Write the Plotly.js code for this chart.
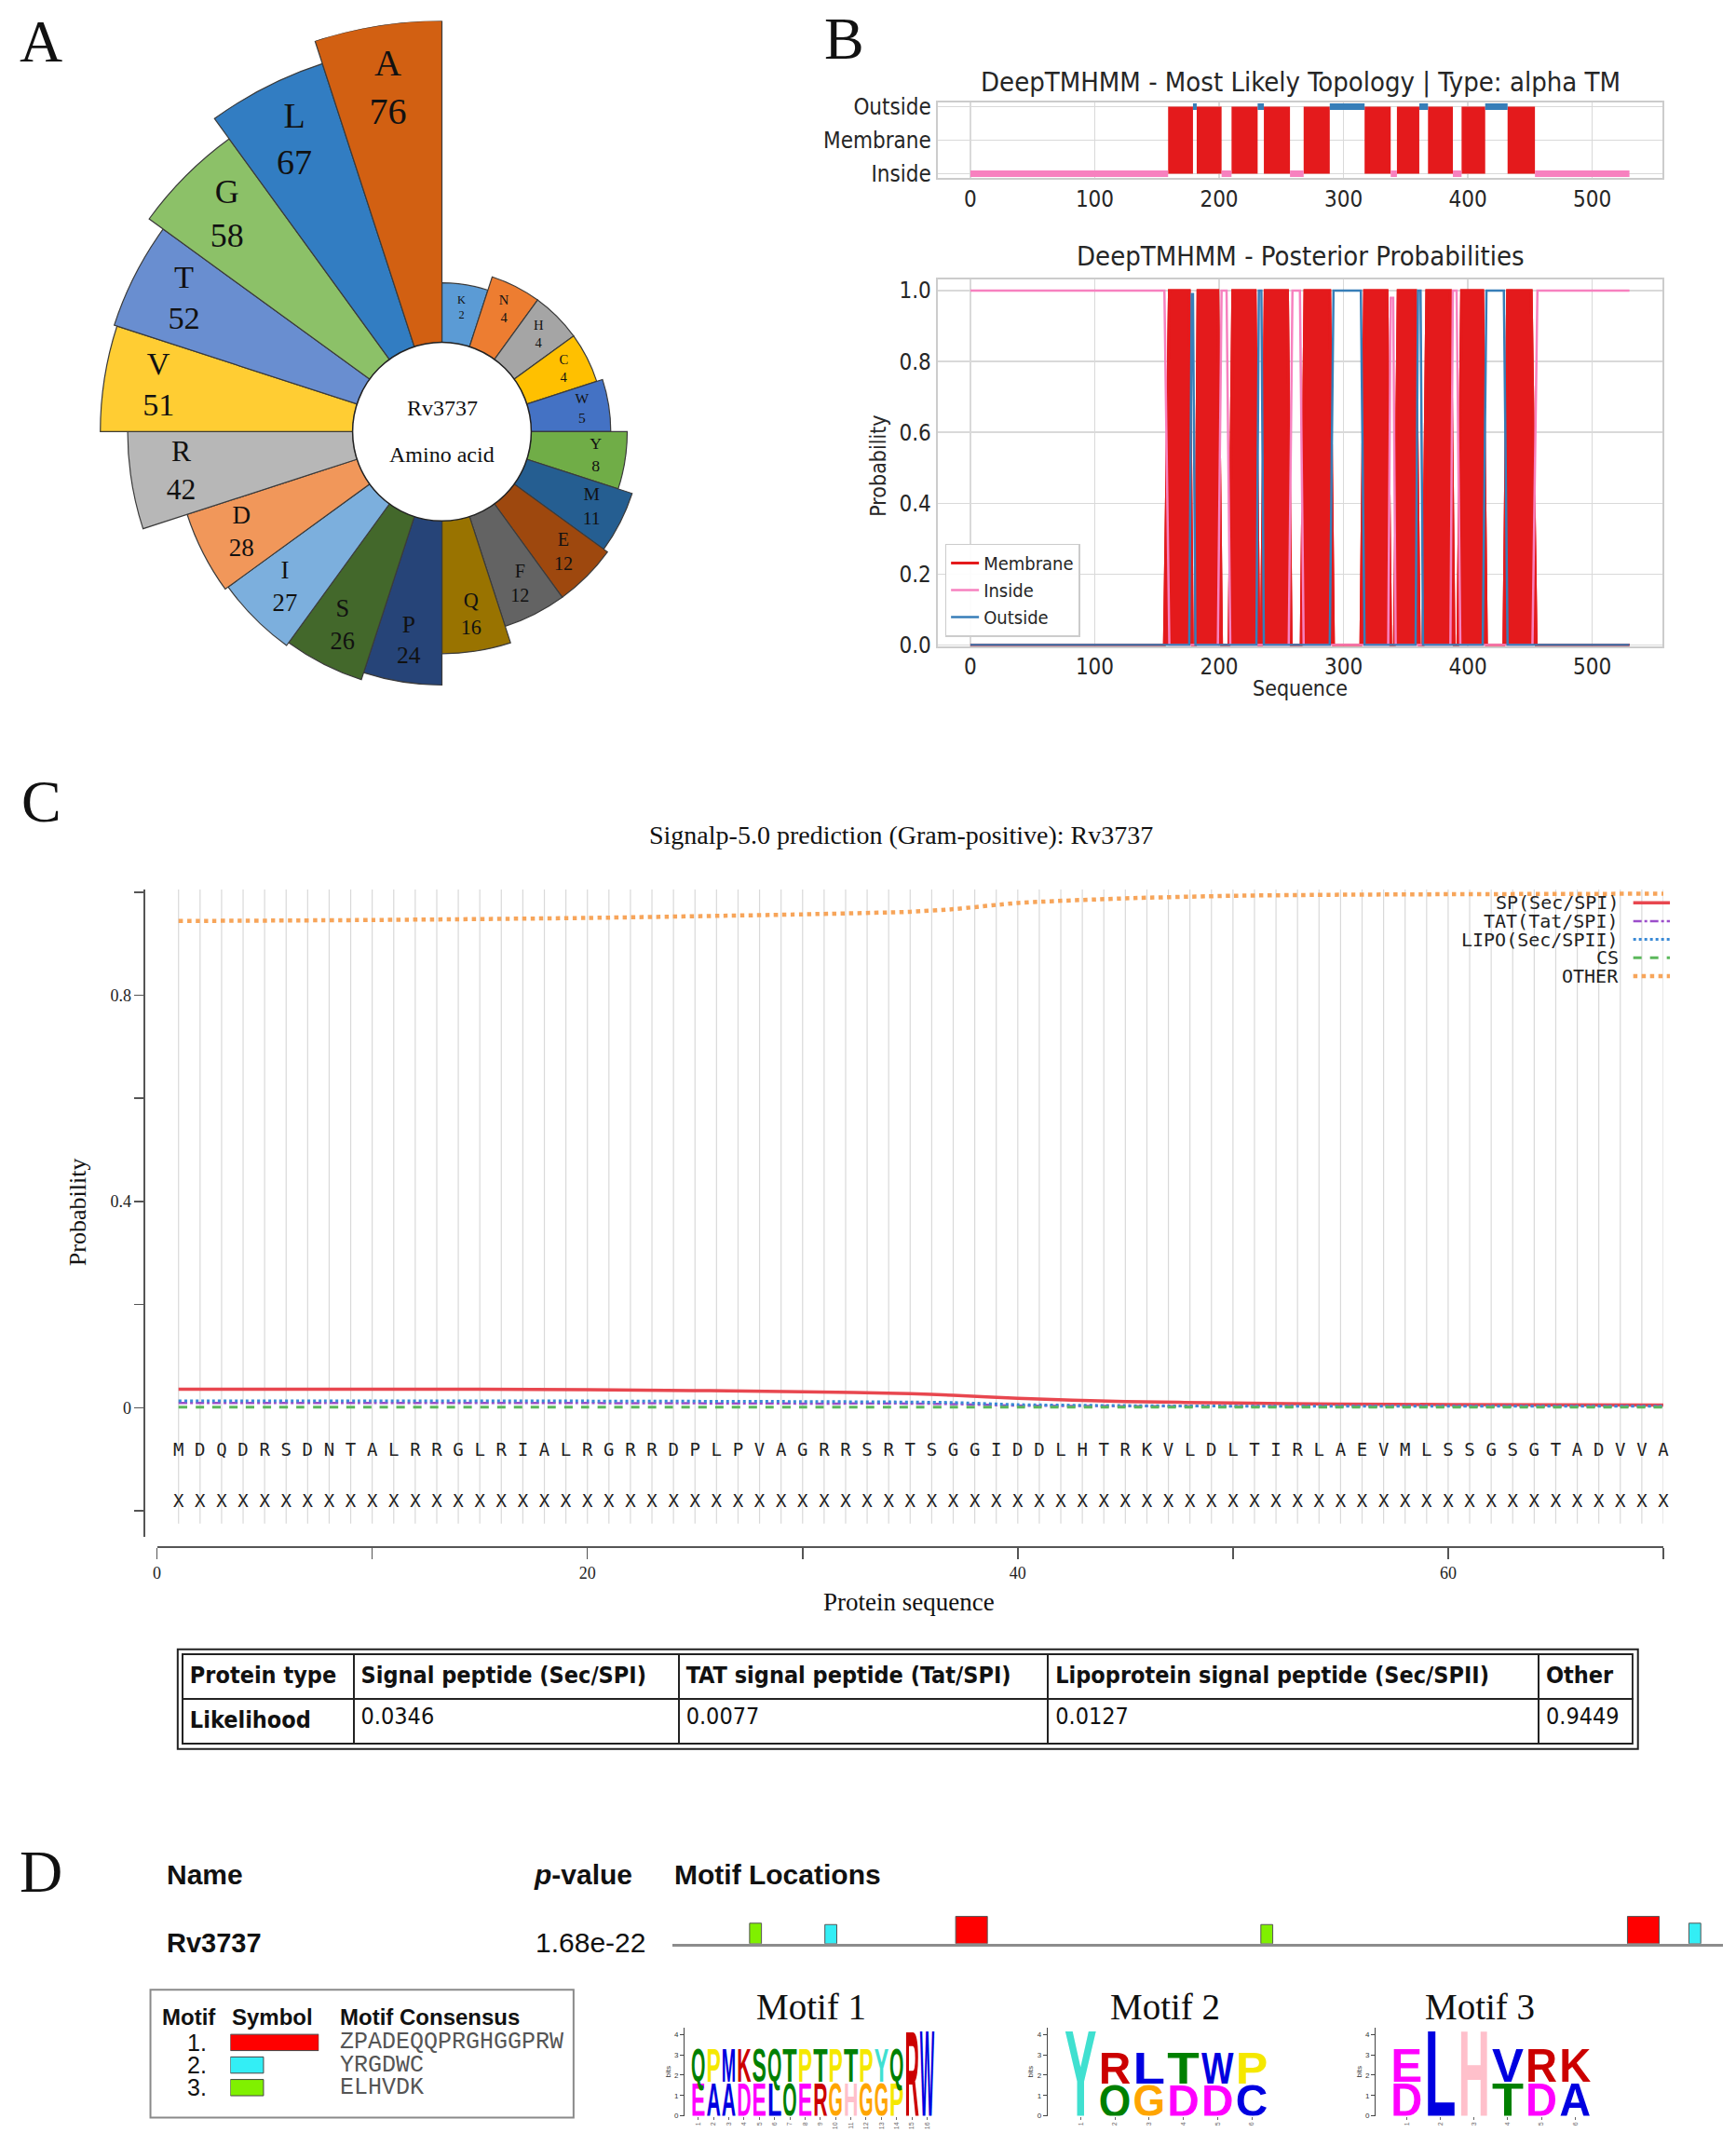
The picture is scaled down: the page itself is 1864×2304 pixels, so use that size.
<!DOCTYPE html>
<html>
<head>
<meta charset="utf-8">
<script src="https://cdn.plot.ly/plotly-3.0.1.min.js"></script>
<style>html,body{margin:0;padding:0;background:#fff}#chart{width:1864px;height:2304px}</style>
</head>
<body>
<div id="chart"></div>
<script>
// ---- A: amino acid composition ----
var aaLetters = ['K','N','H','C','W','Y','M','E','F','Q','P','S','I','D','R','V','T','G','L','A'];
var aaCounts = [2, 4, 4, 4, 5, 8, 11, 12, 12, 16, 24, 26, 27, 28, 42, 51, 52, 58, 67, 76];

// ---- B: DeepTMHMM ----
var seqLength = 530;
var tmStart = [159, 182, 210, 236, 268, 317, 343, 368, 395, 432];
var tmEnd = [179, 202, 231, 257, 289, 338, 361, 388, 414, 454];

var postMemX = [0, 156, 160, 176, 178.5, 181, 183, 199, 202, 208, 211, 229, 232, 234, 237, 255, 258, 266, 269, 289, 292, 314, 317, 335, 338, 341, 344, 358, 361, 364, 367, 386, 389, 392, 395, 412, 415, 429, 432, 451, 455, 530];
var postMemY = [0, 0, 1, 1, 0, 0, 1, 1, 0, 0, 1, 1, 0, 0, 1, 1, 0, 0, 1, 1, 0, 0, 1, 1, 0, 0, 1, 1, 0, 0, 1, 1, 0, 0, 1, 1, 0, 0, 1, 1, 0, 0];
var postInX = [0, 156, 160, 199, 202, 206, 209, 256, 259, 265, 268, 336, 338, 340, 342, 386, 388, 391, 394, 452, 456, 530];
var postInY = [1, 1, 0, 0, 1, 1, 0, 0, 1, 1, 0, 0, 0.98, 0.98, 0, 0, 1, 1, 0, 0, 1, 1];
var postOutX = [0, 176, 178, 179, 181, 230, 232, 234, 236, 289, 292, 314, 317, 358, 360, 362, 364, 412, 415, 429, 432, 530];
var postOutY = [0, 0, 0.99, 0.99, 0, 0, 1, 1, 0, 0, 1, 1, 0, 0, 1, 1, 0, 0, 1, 1, 0, 0];

// ---- C: SignalP 5.0 ----
var signalSeq = 'MDQDRSDNTALRRGLRIALRGRRDPLPVAGRRSRTSGGIDDLHTRKVLDLTIRLAEVMLSSGSGTADVVA';
var probPos = [1, 10, 20, 30, 35, 37, 40, 45, 50, 55, 60, 70];
var probSP = [0.036, 0.036, 0.035, 0.031, 0.027, 0.024, 0.018, 0.012, 0.009, 0.007, 0.006, 0.005];
var probTAT = [0.009, 0.009, 0.009, 0.008, 0.008, 0.007, 0.004, 0.003, 0.003, 0.003, 0.003, 0.003];
var probLIPO = [0.013, 0.013, 0.013, 0.012, 0.011, 0.010, 0.006, 0.004, 0.003, 0.003, 0.003, 0.003];
var probCS = [0.001, 0.001, 0.001, 0.001, 0.001, 0.001, 0.001, 0.001, 0.001, 0.001, 0.001, 0.001];
var probOTHER = [0.944, 0.946, 0.950, 0.957, 0.962, 0.967, 0.979, 0.988, 0.993, 0.995, 0.996, 0.997];
var tableHeader = ['Protein type', 'Signal peptide (Sec/SPI)', 'TAT signal peptide (Tat/SPI)', 'Lipoprotein signal peptide (Sec/SPII)', 'Other'];
var tableLikelihood = ['Likelihood', '0.0346', '0.0077', '0.0127', '0.9449'];

// ---- D: MEME ----
var memeName = 'Rv3737';
var memePValue = '1.68e-22';
var siteMotif = [3, 2, 1, 3, 1, 2];
var siteStart = [39, 77, 143, 297, 482, 513];
var siteHeight = [0.75, 0.7, 1.0, 0.7, 1.0, 0.75];
var motifWidth = [16, 6, 6];
var motifConsensus = ['ZPADEQQPRGHGGPRW', 'YRGDWC', 'ELHVDK'];
var logoMotif1 = [
  [['E', 1.66], ['Q', 1.66]], [['A', 1.66], ['P', 1.66]], [['A', 1.66], ['M', 1.66]], [['D', 1.66], ['K', 1.66]],
  [['E', 1.66], ['S', 1.66]], [['L', 1.66], ['Q', 1.66]], [['Q', 1.66], ['T', 1.66]], [['E', 1.66], ['P', 1.66]],
  [['R', 1.66], ['T', 1.66]], [['G', 1.66], ['P', 1.66]], [['H', 1.66], ['T', 1.66]], [['G', 1.66], ['P', 1.66]],
  [['G', 1.66], ['Y', 1.66]], [['P', 1.66], ['Q', 1.66]], [['R', 4.32]], [['W', 4.32]]
];
var logoMotif2 = [[['Y', 4.32]], [['Q', 1.6], ['R', 1.6]], [['G', 1.6], ['L', 1.6]], [['D', 1.6], ['T', 1.6]], [['D', 1.6], ['W', 1.6]], [['C', 1.6], ['P', 1.6]]];
var logoMotif3 = [[['D', 1.66], ['E', 1.66]], [['L', 4.32]], [['H', 4.32]], [['T', 1.66], ['V', 1.66]], [['D', 1.66], ['R', 1.66]], [['A', 1.66], ['K', 1.66]]];

// ---- styles ----
var W = 1864, H = 2304, K = 1.0096;
function px(x) { return x * K / W; }
function py(y) { return 1 - y * K / H; }

var SERIF = 'Liberation Serif, Times New Roman, serif';
var COND = 'DejaVu Sans Condensed, Liberation Sans Narrow, DejaVu Sans, sans-serif';
var ARIAL = 'Liberation Sans, Arial, sans-serif';
var MONO = 'DejaVu Sans Mono, monospace';
var COURIER = 'Liberation Mono, Courier New, monospace';
var RED = '#e41a1c', PINK = '#f781bf', BLUE = '#377eb8';

var aaColors = ['#5b9bd5', '#ed7d31', '#a5a5a5', '#ffc000', '#4472c4', '#70ad47', '#255e91', '#9e480e', '#636363', '#997300',
  '#264478', '#43682b', '#7cafdd', '#f1975a', '#b7b7b7', '#ffcd33', '#698ed0', '#8cc168', '#327dc2', '#d26012'];
var motifColors = ['#ff0000', '#33eef5', '#80f000'];
var letterColor = {A: '#0000e0', C: '#0000e0', F: '#0000e0', I: '#0000e0', L: '#0000e0', M: '#0000e0', V: '#0000e0', W: '#0000e0',
  K: '#cc0000', R: '#cc0000', D: '#ff00ff', E: '#ff00ff', N: '#008000', Q: '#008000', S: '#008000', T: '#008000',
  G: '#ffa500', H: '#ffc0cb', P: '#f5e800', Y: '#40e0d0'};

var traces = [];
var shapes = [];
var notes = [];

function note(text, x, y, size, family, extra) {
  var a = {text: text, x: px(x), y: py(y), xref: 'paper', yref: 'paper', showarrow: false,
    font: {family: family, size: size, color: '#111'}, xanchor: 'center', yanchor: 'middle'};
  for (var k in extra) a[k] = extra[k];
  return a;
}

// panel letters
notes.push(note('A', 44, 44, 64, SERIF), note('B', 898, 41, 64, SERIF), note('C', 44, 852, 64, SERIF), note('D', 44, 1990, 64, SERIF));

// ---- A ----
// bar length grows with count^0.7, bars start at the white centre circle
var pw = 0.7, hole = 0.2167;
var aaR = aaCounts.map(function (v) { return Math.pow(v, pw); });
var rMax = Math.max.apply(null, aaR), rMin = -2.73;
function labelR(r) {
  var f = hole + (1 - hole) * (r - rMin) / (rMax - rMin);
  return rMin + (0.84 * f - hole) / (1 - hole) * (rMax - rMin);
}
traces.push({
  type: 'barpolar', subplot: 'polar', r: aaR.map(function (r) { return r - rMin; }), base: rMin, theta: aaLetters,
  marker: {color: aaColors, line: {color: '#3b3b3b', width: 1.2}}, showlegend: false, hoverinfo: 'skip'
});
traces.push({
  type: 'scatterpolar', subplot: 'polar', mode: 'text', r: aaR.map(labelR), theta: aaLetters,
  text: aaLetters.map(function (l, i) { return l + '<br>' + aaCounts[i]; }),
  textfont: {family: SERIF, color: '#111', size: aaCounts.map(function (v) { return 7 + 3.8 * Math.sqrt(v); })},
  showlegend: false, hoverinfo: 'skip'
});
shapes.push({type: 'circle', xref: 'paper', yref: 'paper', x0: px(375), x1: px(565), y0: py(554), y1: py(364),
  fillcolor: 'white', line: {color: '#222', width: 1.5}, layer: 'above'});
notes.push(note('Rv3737', 470, 434, 24, SERIF), note('Amino acid', 470, 483, 24, SERIF));

// ---- B: topology ----
var loopIn = {x: [], y: []}, loopOut = {x: [], y: []};
for (var k = 0; k <= tmStart.length; k++) {
  var a0 = k === 0 ? 0 : tmEnd[k - 1];
  var b0 = k === tmStart.length ? seqLength : tmStart[k];
  var side = k % 2 === 0 ? loopIn : loopOut;
  var lev = k % 2 === 0 ? 0 : 2;
  side.x.push(a0, b0, null);
  side.y.push(lev, lev, null);
}
traces.push({
  type: 'bar', xaxis: 'x', yaxis: 'y', base: 0,
  x: tmStart.map(function (s, i) { return (s + tmEnd[i]) / 2; }),
  y: tmStart.map(function () { return 2; }),
  width: tmStart.map(function (s, i) { return tmEnd[i] - s; }),
  marker: {color: RED, line: {width: 0}}, showlegend: false, hoverinfo: 'skip'
});
traces.push({type: 'scatter', mode: 'lines', xaxis: 'x', yaxis: 'y', x: loopIn.x, y: loopIn.y, line: {color: PINK, width: 7}, showlegend: false, hoverinfo: 'skip'});
traces.push({type: 'scatter', mode: 'lines', xaxis: 'x', yaxis: 'y', x: loopOut.x, y: loopOut.y, line: {color: BLUE, width: 7}, showlegend: false, hoverinfo: 'skip'});

// ---- B: posterior ----
traces.push({type: 'scatter', mode: 'lines', xaxis: 'x2', yaxis: 'y2', x: postMemX, y: postMemY, fill: 'tozeroy', fillcolor: RED,
  line: {color: RED, width: 3}, showlegend: false, hoverinfo: 'skip'});
traces.push({type: 'scatter', mode: 'lines', xaxis: 'x2', yaxis: 'y2', x: postMemX, y: postMemY, name: 'Membrane',
  line: {color: RED, width: 3}, legendrank: 1, hoverinfo: 'skip'});
traces.push({type: 'scatter', mode: 'lines', xaxis: 'x2', yaxis: 'y2', x: postInX, y: postInY, name: 'Inside',
  line: {color: PINK, width: 2.5}, legendrank: 2, hoverinfo: 'skip'});
traces.push({type: 'scatter', mode: 'lines', xaxis: 'x2', yaxis: 'y2', x: postOutX, y: postOutY, name: 'Outside',
  line: {color: BLUE, width: 2.5}, legendrank: 3, hoverinfo: 'skip'});

var bText = {family: COND, size: 29, color: '#262626'};
notes.push(note('DeepTMHMM - Most Likely Topology | Type: alpha TM', 1383, 87, 29, COND, {font: bText}));
notes.push(note('DeepTMHMM - Posterior Probabilities', 1383, 272, 29, COND, {font: bText}));
notes.push(note('Probability', 934, 495, 23, COND, {textangle: -90, font: {family: COND, size: 23, color: '#262626'}}));
notes.push(note('Sequence', 1383, 732, 23, COND, {font: {family: COND, size: 23, color: '#262626'}}));

// ---- C ----
var cSeries = [
  {name: 'SP(Sec/SPI)', y: probSP, color: '#e8474f', dash: 'solid', width: 3.5},
  {name: 'TAT(Tat/SPI)', y: probTAT, color: '#9b4dca', dash: 'dashdot', width: 2.5},
  {name: 'LIPO(Sec/SPII)', y: probLIPO, color: '#3a8ad6', dash: 'dot', width: 3},
  {name: 'CS', y: probCS, color: '#5cb85c', dash: 'dash', width: 3},
  {name: 'OTHER', y: probOTHER, color: '#f7a55a', dash: 'dot', width: 4.5}
];
for (var i = 1; i <= signalSeq.length; i++) {
  shapes.push({type: 'line', xref: 'x3', yref: 'y3', x0: i, x1: i, y0: -0.225, y1: 1.005,
    line: {color: '#d9d9d9', width: 1.2}, layer: 'below'});
}
cSeries.forEach(function (s, j) {
  traces.push({type: 'scatter', mode: 'lines', xaxis: 'x3', yaxis: 'y3', x: probPos, y: s.y, name: s.name,
    line: {color: s.color, dash: s.dash, width: s.width, shape: 'spline', smoothing: 0.6}, showlegend: false, hoverinfo: 'skip'});
  var ly = 960 + 19.5 * j;
  notes.push(note(s.name, 1723, ly, 20, MONO, {xanchor: 'right', font: {family: MONO, size: 20, color: '#222'}}));
  shapes.push({type: 'line', xref: 'paper', yref: 'paper', x0: px(1737), x1: px(1776), y0: py(ly), y1: py(ly),
    line: {color: s.color, dash: s.dash, width: s.width}});
});
var seqIdx = signalSeq.split('').map(function (c, i) { return i + 1; });
traces.push({type: 'scatter', mode: 'text', xaxis: 'x3', yaxis: 'y3', x: seqIdx, y: seqIdx.map(function () { return -0.085; }),
  text: signalSeq.split(''), textfont: {family: MONO, size: 19, color: '#222'}, cliponaxis: false, showlegend: false, hoverinfo: 'skip'});
traces.push({type: 'scatter', mode: 'text', xaxis: 'x3', yaxis: 'y3', x: seqIdx, y: seqIdx.map(function () { return -0.185; }),
  text: seqIdx.map(function () { return 'X'; }), textfont: {family: MONO, size: 19, color: '#222'}, cliponaxis: false, showlegend: false, hoverinfo: 'skip'});

notes.push(note('Signalp-5.0 prediction (Gram-positive): Rv3737', 958, 888, 28, SERIF));
notes.push(note('Probability', 83, 1289, 26, SERIF, {textangle: -90}));
notes.push(note('Protein sequence', 967, 1704, 27, SERIF));

traces.push({
  type: 'table', domain: {x: [px(194), px(1737)], y: [py(1856), py(1759)]},
  columnwidth: [182, 346, 393, 522, 100],
  header: {values: tableHeader.map(function (h) { return '<b>' + h + '</b>'; }), align: 'left', height: 48,
    line: {color: '#222', width: 2}, fill: {color: 'white'}, font: {family: COND, size: 25, color: '#111'}},
  cells: {values: tableLikelihood.map(function (v, i) { return [i === 0 ? '<b>' + v + '</b>' : v]; }), align: 'left', height: 48,
    line: {color: '#222', width: 2}, fill: {color: 'white'}, font: {family: COND, size: 25, color: '#111'}}
});
// outer frame of the double-bordered html table
shapes.push({type: 'rect', xref: 'paper', yref: 'paper', x0: px(189), x1: px(1742), y0: py(1860), y1: py(1754),
  line: {color: '#222', width: 2}});

// ---- D ----
notes.push(note('<b>Name</b>', 175, 1993, 30, ARIAL, {xanchor: 'left'}));
notes.push(note('<b><i>p</i>-value</b>', 566, 1993, 30, ARIAL, {xanchor: 'left'}));
notes.push(note('<b>Motif Locations</b>', 715, 1993, 30, ARIAL, {xanchor: 'left'}));
notes.push(note('<b>' + memeName + '</b>', 175, 2066, 29, ARIAL, {xanchor: 'left'}));
notes.push(note(memePValue, 568, 2066, 30, ARIAL, {xanchor: 'left'}));

traces.push({
  type: 'bar', xaxis: 'x4', yaxis: 'y4', base: 0,
  x: siteStart.map(function (s, i) { return s + motifWidth[siteMotif[i] - 1] / 2; }),
  width: siteMotif.map(function (m) { return motifWidth[m - 1]; }),
  y: siteHeight,
  marker: {color: siteMotif.map(function (m) { return motifColors[m - 1]; }), line: {color: '#555', width: 1}},
  showlegend: false, hoverinfo: 'skip'
});

// motif legend box
shapes.push({type: 'rect', xref: 'paper', yref: 'paper', x0: px(160), x1: px(610), y0: py(2252), y1: py(2116),
  line: {color: '#8a8a8a', width: 2}});
notes.push(note('<b>Motif</b>', 170, 2145, 24, ARIAL, {xanchor: 'left'}));
notes.push(note('<b>Symbol</b>', 245, 2145, 24, ARIAL, {xanchor: 'left'}));
notes.push(note('<b>Motif Consensus</b>', 360, 2145, 24, ARIAL, {xanchor: 'left'}));
motifConsensus.forEach(function (c, i) {
  var ry = 2172 + 24 * i;
  notes.push(note((i + 1) + '.', 222, ry, 25, ARIAL, {xanchor: 'right'}));
  notes.push(note(c, 360, ry, 25, COURIER, {xanchor: 'left', font: {family: COURIER, size: 25, color: '#555'}}));
});
traces.push({
  type: 'bar', orientation: 'h', xaxis: 'x5', yaxis: 'y5', x: motifWidth, y: [1, 2, 3], width: 0.72,
  marker: {color: motifColors, line: {color: '#444', width: 1}}, showlegend: false, hoverinfo: 'skip'
});

// logos
function logoTrace(cols, n, size) {
  var xs = [], ys = [], txt = [], col = [], box = [];
  cols.forEach(function (stack, c) {
    var base = 0;
    stack.forEach(function (item) {
      var top = base + item[1];
      xs.push(c + 1); ys.push((base + top) / 2); txt.push(item[0]); col.push(letterColor[item[0]]);
      box.push([c + 0.53, c + 1.47, base, top]);
      base = top;
    });
  });
  return {type: 'scatter', mode: 'text', xaxis: 'x' + n, yaxis: 'y' + n, x: xs, y: ys, text: txt, customdata: box, meta: 'logo',
    textposition: 'middle center', textfont: {family: ARIAL, size: size, color: col, weight: 'bold'}, showlegend: false, hoverinfo: 'skip'};
}
traces.push(logoTrace(logoMotif1, 6, 18), logoTrace(logoMotif2, 7, 36), logoTrace(logoMotif3, 8, 36));
notes.push(note('Motif 1', 863, 2134, 39, SERIF), note('Motif 2', 1239, 2134, 39, SERIF), note('Motif 3', 1574, 2134, 39, SERIF));

var layout = {
  width: W, height: H, margin: {l: 0, r: 0, t: 0, b: 0}, paper_bgcolor: 'white', plot_bgcolor: 'rgba(0,0,0,0)',
  barmode: 'overlay', showlegend: true,
  legend: {x: px(1005), y: py(578), xanchor: 'left', yanchor: 'top', bgcolor: 'rgba(255,255,255,0.9)',
    bordercolor: '#cccccc', borderwidth: 1.5, font: {family: COND, size: 20, color: '#262626'}, traceorder: 'normal'},
  polar: {domain: {x: [px(33), px(907)], y: [py(896), py(22)]}, hole: hole, bargap: 0, bgcolor: 'rgba(0,0,0,0)',
    radialaxis: {visible: false, range: [rMin, rMax]},
    angularaxis: {visible: false, direction: 'clockwise', rotation: 81, type: 'category', categoryarray: aaLetters}},
  shapes: shapes,
  annotations: notes
};

var tmFont = {family: COND, size: 24, color: '#262626'};
function mplAxis(extra) {
  var ax = {showgrid: true, gridcolor: '#d9d9d9', gridwidth: 1.5, zeroline: false, showline: true, mirror: true,
    linecolor: '#cccccc', linewidth: 2, ticks: '', tickfont: tmFont, automargin: false, fixedrange: true};
  for (var k in extra) ax[k] = extra[k];
  return ax;
}
layout.xaxis = mplAxis({domain: [px(997), px(1768)], range: [-26.5, 556.5], anchor: 'y', tickvals: [0, 100, 200, 300, 400, 500]});
layout.yaxis = mplAxis({domain: [py(189), py(109)], range: [-0.12, 2.12], anchor: 'x', tickvals: [0, 1, 2], ticktext: ['Inside', 'Membrane', 'Outside']});
layout.xaxis2 = mplAxis({domain: [px(997), px(1768)], range: [-26.5, 556.5], anchor: 'y2', tickvals: [0, 100, 200, 300, 400, 500]});
layout.yaxis2 = mplAxis({domain: [py(687), py(297)], range: [-0.003, 1.032], anchor: 'x2', tickvals: [0, 0.2, 0.4, 0.6, 0.8, 1], tickformat: '.1f'});

var cTick = {family: SERIF, size: 18, color: '#222'};
layout.xaxis3 = {domain: [px(167), px(1769)], range: [0, 70], anchor: 'free', position: py(1645),
  tickvals: [0, 10, 20, 30, 40, 50, 60, 70], ticktext: ['0', '', '20', '', '40', '', '60', ''],
  ticks: 'outside', ticklen: 12, tickcolor: '#555', tickwidth: 1.5, showline: true, linecolor: '#555', linewidth: 2,
  showgrid: false, zeroline: false, tickfont: cTick, automargin: false, fixedrange: true};
layout.yaxis3 = {domain: [py(1634), py(946)], range: [-0.25, 1.005], anchor: 'free', position: px(154),
  tickvals: [-0.2, 0, 0.2, 0.4, 0.6, 0.8, 1.0], ticktext: ['', '0', '', '0.4', '', '0.8', ''],
  ticks: 'outside', ticklen: 10, tickcolor: '#555', tickwidth: 1.5, showline: true, linecolor: '#555', linewidth: 2,
  showgrid: false, zeroline: false, tickfont: cTick, automargin: false, fixedrange: true};

layout.xaxis4 = {domain: [px(715), px(1832)], range: [0, seqLength], anchor: 'y4', showline: true, linecolor: '#8c8c8c', linewidth: 3,
  showticklabels: false, ticks: '', showgrid: false, zeroline: false, fixedrange: true};
layout.yaxis4 = {domain: [py(2067), py(2037)], range: [0, 1.03], anchor: 'x4', visible: false, fixedrange: true};
layout.xaxis5 = {domain: [px(245), px(339)], range: [0, 16], anchor: 'y5', visible: false, fixedrange: true};
layout.yaxis5 = {domain: [py(2232), py(2160)], range: [3.5, 0.5], anchor: 'x5', visible: false, fixedrange: true};

function logoAxes(n, x0, x1, r0, r1, nCols) {
  var tv = [];
  for (var c = 1; c <= nCols; c++) tv.push(c);
  layout['xaxis' + n] = {domain: [px(x0), px(x1)], range: [r0, r1], anchor: 'y' + n, tickvals: tv,
    tickfont: {family: ARIAL, size: 7, color: '#666'}, tickangle: -90, ticks: 'outside', ticklen: 3, tickcolor: '#666',
    showline: false, showgrid: false, zeroline: false, automargin: false, fixedrange: true};
  layout['yaxis' + n] = {domain: [py(2250), py(2156)], range: [0, 4.35], anchor: 'x' + n, tickvals: [0, 1, 2, 3, 4],
    tickfont: {family: ARIAL, size: 8, color: '#333'}, ticks: 'outside', ticklen: 4, tickcolor: '#444',
    showline: true, linecolor: '#444', linewidth: 1, showgrid: false, zeroline: false, automargin: false, fixedrange: true,
    title: {text: 'bits', font: {family: ARIAL, size: 8, color: '#333'}, standoff: 2}};
}
logoAxes(6, 728, 995, 0.1, 16.55, 16);
logoAxes(7, 1114, 1352, 0.03, 6.57, 6);
logoAxes(8, 1463, 1696, 0.08, 6.58, 6);

// stretch logo letters so each fills its stack cell, like a sequence logo
function stretchLogos(gd) {
  var fl = gd._fullLayout;
  gd._fullData.forEach(function (tr) {
    if (tr.meta !== 'logo') return;
    try {
      var xa = fl[tr.xaxis.replace('x', 'xaxis')], ya = fl[tr.yaxis.replace('y', 'yaxis')];
      var plot = fl._plots[tr.xaxis + tr.yaxis].plot.node();
      var texts = plot.querySelectorAll('g.textpoint text');
      texts.forEach(function (t, j) {
        var c = tr.customdata[j];
        if (!c) return;
        var dx = 0, dy = 0;
        var tf = t.parentNode.transform && t.parentNode.transform.baseVal.consolidate();
        if (tf) { dx = tf.matrix.e; dy = tf.matrix.f; }
        var X0 = xa.c2p(c[0]) - dx, X1 = xa.c2p(c[1]) - dx;
        var Ytop = ya.c2p(c[3]) - dy, Ybot = ya.c2p(c[2]) - dy;
        var bb = t.getBBox();
        var base = parseFloat(t.getAttribute('y'));
        var fs = parseFloat(t.style.fontSize) || tr.textfont.size;
        var capH = 0.716 * fs;
        var sx = (X1 - X0) / bb.width, sy = (Ybot - Ytop) / capH;
        t.setAttribute('transform', 'translate(' + X0 + ',' + Ybot + ') scale(' + sx + ',' + sy + ') translate(' + (-bb.x) + ',' + (-base) + ')');
      });
    } catch (e) { /* leave plain letters */ }
  });
}

Plotly.newPlot('chart', traces, layout, {displayModeBar: false, staticPlot: true}).then(stretchLogos);
</script>
</body>
</html>
